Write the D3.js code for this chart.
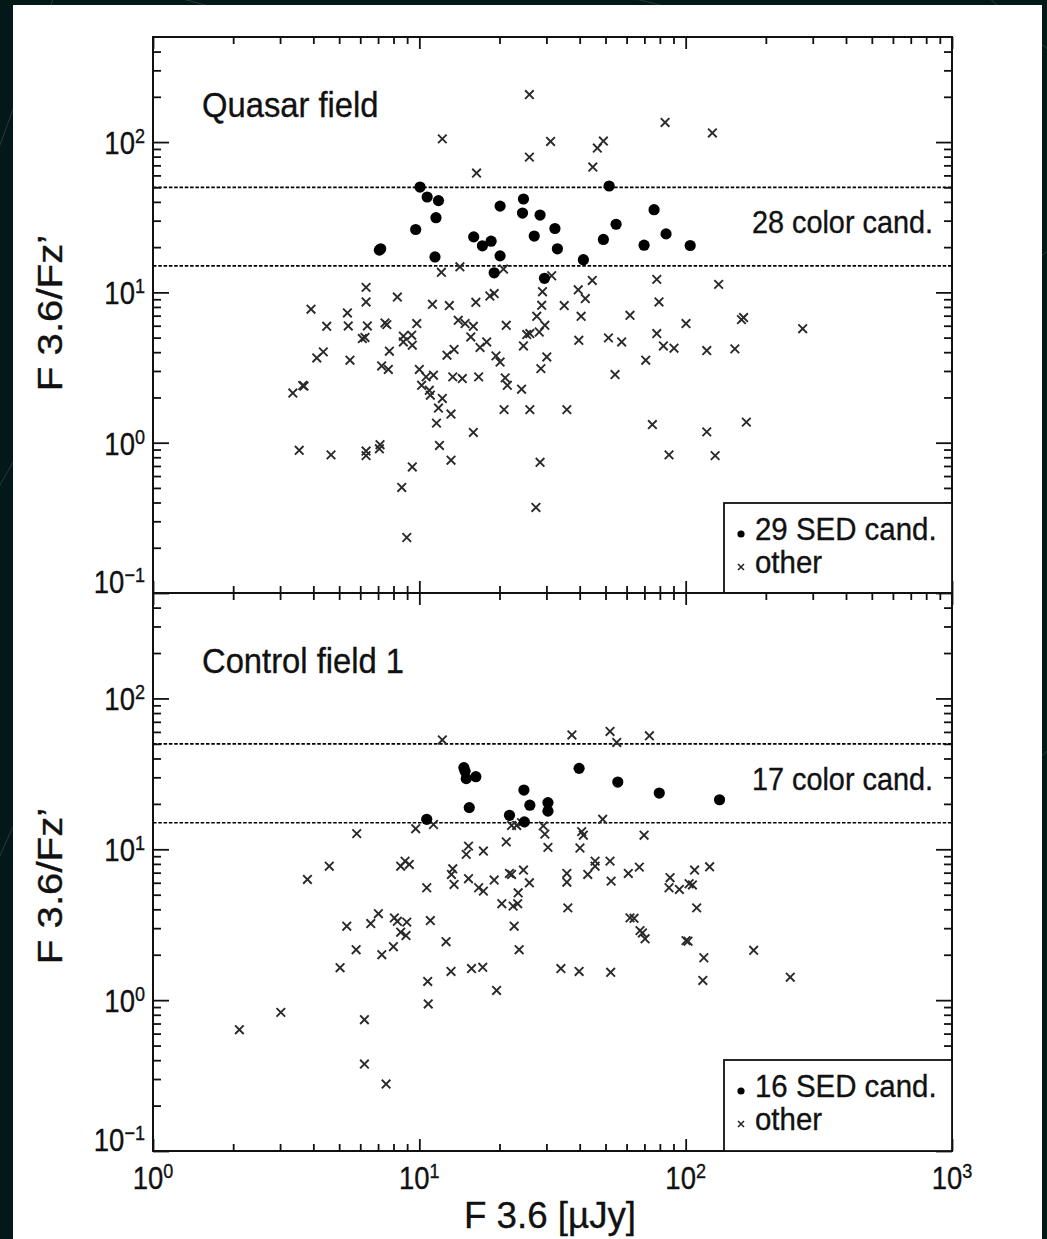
<!DOCTYPE html>
<html>
<head>
<meta charset="utf-8">
<script src="https://cdnjs.cloudflare.com/ajax/libs/d3/7.8.5/d3.min.js"></script>
<style>
body { margin: 0; background: #021819; }
svg { display: block; }
text { font-family: "Liberation Sans", Arial, Helvetica, sans-serif; fill: #111; stroke: #111; stroke-width: 0.35; }
</style>
</head>
<body>
<svg id="fig" width="1047" height="1239"></svg>
<script>
// F3.6 [uJy], F3.6/Fz'
var quasarSed = [[7.08,19.1],[7.16,19.5],[9.69,26.2],[10.06,50.2],[10.7,43.1],[11.8,40.8],[11.55,31.4],[11.45,17.2],
  [16.0,23.4],[17.25,20.4],[18.6,21.9],[20.1,37.5],[20.1,17.5],[19.1,13.5],[24.6,41.8],[24.4,33.7],[28.4,32.7],
  [27.0,23.7],[29.5,12.4],[32.3,26.6],[33.0,19.5],[41.3,16.5],[49.1,22.5],[54.8,28.4],[51.6,51.0],[69.8,20.6],
  [76.1,35.5],[84.4,24.5],[104,20.5]];

var quasarOther = [[25.9,207],[12.2,105],[25.9,79.4],[31.1,101],[16.4,62.2],[12.1,13.6],[14.2,14.8],[20.7,14.3],
  [6.31,10.8],[6.31,8.63],[8.27,9.31],[3.92,7.73],[5.37,7.30],[11.2,8.33],[12.96,8.17],[16.3,8.59],[18.4,9.46],
  [19.1,9.82],[29.0,10.1],[28.8,8.2],[27.6,6.93],[4.49,5.95],[5.41,5.98],[6.38,5.98],[7.43,6.26],[7.55,6.1],
  [9.78,6.2],[14.0,6.52],[14.85,6.2],[15.95,5.95],[21.2,6.04],[29.6,6.04],[6.11,4.93],[6.25,5.01],[8.71,5.11],
  [9.36,5.19],[8.71,4.68],[9.41,4.45],[25.3,5.24],[26.0,5.32],[28.2,5.45],[15.6,5.05],[17.9,4.68],[16.9,4.30],
  [24.6,4.40],[4.12,3.66],[4.36,4.02],[5.49,3.54],[7.72,4.06],[12.7,3.82],[13.5,4.17],[19.4,3.78],[20.1,3.44],
  [30.1,3.72],[28.6,3.11],[7.22,3.24],[7.65,3.07],[10.0,3.07],[10.6,2.74],[11.3,2.81],[10.2,2.41],[10.9,2.23],
  [11.0,2.07],[13.35,2.74],[14.5,2.67],[16.7,2.74],[21.0,2.70],[21.4,2.41],[24.2,2.27],[3.35,2.14],[3.65,2.40],
  [3.69,2.38],[12.2,1.97],[11.8,1.70],[13.15,1.55],[20.8,1.66],[26.0,1.66],[11.6,1.35],[15.95,1.17],[11.9,0.958],
  [3.54,0.89],[4.66,0.83],[6.31,0.88],[6.31,0.82],[7.12,0.97],[7.08,0.91],[13.15,0.765],[28.4,0.74],[9.41,0.69],
  [8.59,0.504],[27.4,0.371],[8.97,0.234],[83.7,135],[126,115],[44.8,68.2],[46.6,91.2],[49.1,101.5],[31.4,12.9],
  [44.6,12.0],[77.9,12.2],[133,11.3],[39.5,10.4],[42.0,9.1],[35.0,8.17],[79.4,8.63],[40.5,6.93],[61.8,7.04],
  [100.3,6.2],[162,6.59],[165,6.80],[275,5.73],[39.7,4.80],[51.3,4.98],[57.5,4.68],[77.9,5.32],[82.5,4.40],
  [90.4,4.25],[120,4.10],[153,4.21],[70.8,3.54],[54.3,2.84],[35.8,1.66],[75.0,1.32],[120,1.18],[169,1.37],
  [86.6,0.83],[129,0.82]];

var controlSed = [[10.66,15.8],[14.7,34.8],[14.85,32.9],[15.0,29.4],[16.3,30.3],[15.4,18.9],[21.8,16.8],[24.7,24.7],
  [26.0,19.6],[24.8,15.2],[30.4,20.4],[30.4,17.9],[39.8,34.4],[55.6,27.9],[79.6,23.6],[134,21.3]];

var controlOther = [[12.2,53.1],[9.69,13.7],[11.3,14.6],[5.82,12.7],[4.59,7.73],[3.80,6.31],[8.51,7.73],[8.84,8.35],
  [9.17,7.94],[15.3,10.5],[15.0,9.25],[17.4,9.73],[21.2,11.2],[22.2,14.4],[23.2,14.4],[29.2,14.3],[29.6,12.6],
  [30.4,10.3],[13.35,7.43],[13.2,6.81],[13.5,5.85],[15.3,6.38],[16.7,5.56],[19.1,6.25],[21.8,6.92],[22.2,6.81],
  [24.6,7.28],[25.9,6.0],[10.66,5.56],[17.4,5.28],[11.0,3.37],[20.4,4.36],[22.5,4.20],[23.4,4.36],[23.5,5.15],
  [22.7,3.09],[23.7,2.16],[5.34,3.09],[5.79,2.16],[5.04,1.64],[6.57,3.22],[7.02,3.74],[8.06,3.51],[8.27,3.33],
  [8.97,3.29],[8.51,2.82],[8.91,2.68],[7.23,2.0],[7.99,2.26],[12.6,2.44],[13.15,1.55],[15.7,1.62],[17.3,1.65],
  [19.5,1.16],[10.75,1.33],[10.8,0.943],[3.02,0.83],[2.11,0.637],[6.22,0.742],[6.22,0.377],[7.50,0.278],
  [37.4,57.3],[52.0,60.4],[55.1,51.1],[73.1,56.5],[24.2,15.0],[40.7,13.1],[41.3,12.4],[40.1,10.2],[48.8,15.8],
  [69.8,12.4],[35.8,6.92],[35.8,6.05],[42.9,6.81],[45.7,8.35],[45.7,7.73],[52.0,8.35],[52.5,6.15],[60.9,6.92],
  [67.0,7.62],[87.4,6.48],[86.6,5.56],[94.7,5.42],[103,5.91],[106,5.80],[108,7.28],[123,7.66],[36.1,4.09],
  [61.8,3.51],[64.0,3.49],[67.4,2.89],[68.8,2.79],[70.4,2.55],[100.3,2.48],[102,2.46],[110,4.09],[117,1.91],
  [116,1.35],[180,2.14],[247,1.42],[34.0,1.62],[39.8,1.55],[52.3,1.53]];

var colorCuts = [15, 50];
var xMajor = [1, 10, 100, 1000], xExp = ["0", "1", "2", "3"];
var yMajor = [0.1, 1, 10, 100], yExp = ["\u22121", "0", "1", "2"];
var panelNames = ["Quasar field", "Control field 1"];
var colorLabels = ["28 color cand.", "17 color cand."];
var sedLabels = ["29 SED cand.", "16 SED cand."];

var svg = d3.select("#fig");
var left = 153, right = 952;

// dark backdrop with faint lines, white sheet
svg.append("rect").attr("width", 1047).attr("height", 1239).attr("fill", "#021819");
var bgLines = [[-20,200,60,-20],[-20,520,60,380],[-20,900,70,700],[980,-10,1060,60],[990,300,1060,240],[990,800,1060,740],[150,-10,260,20],[600,-10,720,20]];
svg.selectAll(".bgl").data(bgLines).enter().append("line")
  .attr("x1", function(d){return d[0];}).attr("y1", function(d){return d[1];})
  .attr("x2", function(d){return d[2];}).attr("y2", function(d){return d[3];})
  .attr("stroke", "rgba(200,220,220,0.18)").attr("stroke-width", 1);
svg.append("rect").attr("x", 13).attr("y", 5).attr("width", 1029).attr("height", 1234).attr("fill", "#fff");

var x = d3.scaleLog().domain([1, 1000]).range([left, right]);

function minorOf(majors, maxV) {
  var out = [];
  majors.forEach(function(d) {
    for (var k = 2; k <= 9; k++) { var v = +(k * d).toPrecision(3); if (v < maxV) out.push(v); }
  });
  return out;
}
var xMinor = minorOf([1, 10, 100], 1000);
var yMinor = minorOf(yMajor, 500);

function txt(g, tx, ty, s, size, sx, anchor) {
  return g.append("text")
    .attr("transform", "translate(" + tx + "," + ty + ") scale(" + sx + ",1)")
    .attr("text-anchor", anchor || "start")
    .attr("font-size", size)
    .text(s);
}

function powLabel(g, tx, ty, exp, anchor) {
  var t = g.append("text")
    .attr("transform", "translate(" + tx + "," + ty + ") scale(0.86,1)")
    .attr("text-anchor", anchor)
    .attr("font-size", 32);
  t.append("tspan").text("10");
  t.append("tspan").attr("dy", -11).attr("font-size", 21).text(exp);
}

function crossPath(s) {
  return "M" + (-s) + "," + (-s) + "L" + s + "," + s + "M" + (-s) + "," + s + "L" + s + "," + (-s);
}

function drawPanel(i, top, bottom, sed, other, legendTop, labelMid) {
  var y = d3.scaleLog().domain([0.1, 500]).range([bottom, top]);
  var g = svg.append("g");

  g.selectAll(".cut").data(colorCuts).enter().append("line")
    .attr("x1", left).attr("x2", right)
    .attr("y1", function(d){return y(d);}).attr("y2", function(d){return y(d);})
    .attr("stroke", "#000").attr("stroke-width", 1.7)
    .attr("stroke-dasharray", "3.5,1.8");

  g.selectAll(".other").data(other).enter().append("path")
    .attr("d", crossPath(4.3))
    .attr("transform", function(d){return "translate(" + x(d[0]) + "," + y(d[1]) + ")";})
    .attr("stroke", "#2a2a2a").attr("stroke-width", 1.9).attr("fill", "none");

  g.selectAll(".sed").data(sed).enter().append("circle")
    .attr("cx", function(d){return x(d[0]);})
    .attr("cy", function(d){return y(d[1]);})
    .attr("r", 5.6).attr("fill", "#000");

  // ticks, all pointing inwards
  function ax(gen, tr) {
    var a = g.append("g").attr("transform", tr).call(gen);
    a.select(".domain").remove();
    a.selectAll("line").attr("stroke", "#111").attr("stroke-width", 1.8);
  }
  ax(d3.axisLeft(y).tickValues(yMajor).tickSize(-16).tickFormat(""), "translate(" + left + ",0)");
  ax(d3.axisLeft(y).tickValues(yMinor).tickSize(-8).tickFormat(""), "translate(" + left + ",0)");
  ax(d3.axisRight(y).tickValues(yMajor).tickSize(-16).tickFormat(""), "translate(" + right + ",0)");
  ax(d3.axisRight(y).tickValues(yMinor).tickSize(-8).tickFormat(""), "translate(" + right + ",0)");
  ax(d3.axisBottom(x).tickValues(xMajor).tickSize(-12).tickFormat(""), "translate(0," + bottom + ")");
  ax(d3.axisBottom(x).tickValues(xMinor).tickSize(-7).tickFormat(""), "translate(0," + bottom + ")");
  ax(d3.axisTop(x).tickValues(xMajor).tickSize(-12).tickFormat(""), "translate(0," + top + ")");
  ax(d3.axisTop(x).tickValues(xMinor).tickSize(-7).tickFormat(""), "translate(0," + top + ")");

  g.append("rect").attr("x", left).attr("y", top)
    .attr("width", right - left).attr("height", bottom - top)
    .attr("fill", "none").attr("stroke", "#111").attr("stroke-width", 2);

  yMajor.forEach(function(v, k) {
    var ty = (k === 0) ? y(v) : y(v) + 12;
    powLabel(g, 145, ty, yExp[k], "end");
  });

  g.append("text")
    .attr("transform", "translate(62," + labelMid + ") rotate(-90) scale(1.15,1)")
    .attr("text-anchor", "middle").attr("font-size", 35)
    .text("F 3.6/Fz\u2019");

  txt(g, 202, top + 80, panelNames[i], 36, 0.91);
  txt(g, 933, y(50) + 46, colorLabels[i], 31, 0.93, "end");

  // legend
  var lg = g.append("g");
  lg.append("rect").attr("x", 724).attr("y", legendTop)
    .attr("width", right - 724).attr("height", bottom - legendTop)
    .attr("fill", "#fff").attr("stroke", "#111").attr("stroke-width", 1.8);
  lg.append("circle").attr("cx", 741).attr("cy", legendTop + 31).attr("r", 3.6).attr("fill", "#000");
  txt(lg, 755, legendTop + 37, sedLabels[i], 31, 0.95);
  lg.append("path").attr("d", crossPath(3))
    .attr("transform", "translate(741," + (legendTop + 64) + ")")
    .attr("stroke", "#222").attr("stroke-width", 1.5);
  txt(lg, 755, legendTop + 70, "other", 31, 0.95);
}

drawPanel(0, 37, 593, quasarSed, quasarOther, 503, 313);
drawPanel(1, 593, 1151, controlSed, controlOther, 1060, 886);

xMajor.forEach(function(v, k) {
  powLabel(svg, x(v), 1189, xExp[k], "middle");
});
txt(svg, 550, 1228, "F 3.6 [\u00b5Jy]", 36, 1.02, "middle");
</script>
</body>
</html>
